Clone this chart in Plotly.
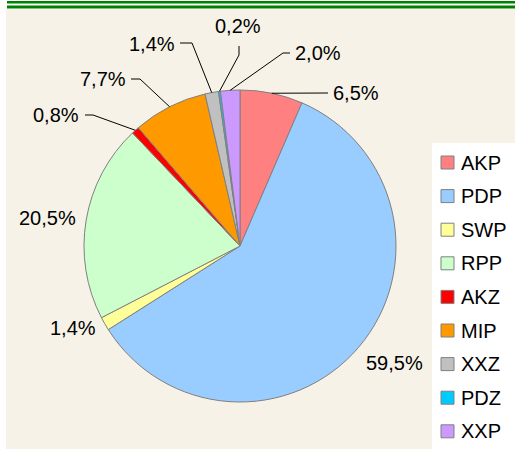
import math
import plotly.graph_objects as go

# ---- data ----
categories = ["AKP", "PDP", "SWP", "RPP", "AKZ", "MIP", "XXZ", "PDZ", "XXP"]
shares = [6.5, 59.5, 1.4, 20.5, 0.8, 7.7, 1.4, 0.2, 2.0]
colors = ["#FF8080", "#99CCFF", "#FFFF99", "#CCFFCC", "#FF0000",
          "#FF9900", "#C0C0C0", "#00CCFF", "#CC99FF"]

W, H = 515, 450
FONT = "Liberation Sans, Arial, sans-serif"


def X(px):
    return px / W


def Y(py):
    return 1 - py / H


# pie geometry (pixels)
CX, CY, R = 240, 246, 156

# label layout (positions only): text position, anchor, elbow/end of leader
label_layout = {
    "AKP": dict(pos=(331, 93), xa="left", path=[(328, 93)]),
    "PDP": dict(pos=(394, 363), xa="center", path=None),
    "SWP": dict(pos=(73, 328), xa="center", path=None),
    "RPP": dict(pos=(47, 218), xa="center", path=None),
    "AKZ": dict(pos=(81, 115), xa="right", path=[(93, 115), (85, 115)]),
    "MIP": dict(pos=(128, 79), xa="right", path=[(140, 79), (131, 79)]),
    "XXZ": dict(pos=(177, 44), xa="right", path=[(192, 43), (180, 43)]),
    "PDZ": dict(pos=(238, 26), xa="center", path=[(239, 55), (239, 46)]),
    "XXP": dict(pos=(293, 53), xa="left", path=[(283, 53), (290, 53)]),
}

fig = go.Figure()
fig.add_trace(go.Pie(
    labels=categories, values=shares, sort=False, direction="clockwise",
    rotation=0, textinfo="none", hoverinfo="skip", showlegend=False,
    marker=dict(colors=colors, line=dict(color="#808080", width=1)),
    domain=dict(x=[X(CX - R), X(CX + R)], y=[Y(CY + R), Y(CY - R)]),
))

shapes = []
# background panel
shapes.append(dict(type="rect", xref="paper", yref="paper", layer="below",
                   x0=X(6), x1=X(515), y0=Y(449), y1=Y(9),
                   fillcolor="#F6F2E7", line=dict(width=0)))
# green double rule
for y0, y1 in [(1, 3.5), (5.5, 8.5)]:
    shapes.append(dict(type="rect", xref="paper", yref="paper",
                       x0=X(7), x1=X(515), y0=Y(y1), y1=Y(y0),
                       fillcolor="#008000", line=dict(width=0)))
# legend box
shapes.append(dict(type="rect", xref="paper", yref="paper",
                   x0=X(432), x1=X(515), y0=Y(449), y1=Y(143),
                   fillcolor="white", line=dict(width=0)))

annotations = []
total = sum(shares)
cum = 0.0
for cat, v in zip(categories, shares):
    mid = (cum + v / 2) / total
    cum += v
    th = 2 * math.pi * mid
    ax = CX + R * math.sin(th)
    ay = CY - R * math.cos(th)
    lay = label_layout[cat]
    txt = f"{v:.1f}".replace(".", ",") + "%"
    annotations.append(dict(
        x=X(lay["pos"][0]), y=Y(lay["pos"][1]), xref="paper", yref="paper",
        text=txt, showarrow=False, xanchor=lay["xa"], yanchor="middle",
        font=dict(size=20, color="black", family=FONT)))
    if lay["path"]:
        pts = [(ax, ay)] + lay["path"]
        d = "M " + " L ".join(f"{X(px):.5f},{Y(py):.5f}" for px, py in pts)
        shapes.append(dict(type="path", xref="paper", yref="paper", path=d,
                           line=dict(color="black", width=1)))

# legend (manual)
for i, (cat, col) in enumerate(zip(categories, colors)):
    yc = 162.5 + i * 33.6
    shapes.append(dict(type="rect", xref="paper", yref="paper",
                       x0=X(441), x1=X(454), y0=Y(yc + 6.5), y1=Y(yc - 6.5),
                       fillcolor=col, line=dict(color="#808080", width=1)))
    annotations.append(dict(
        x=X(459), y=Y(yc), xref="paper", yref="paper", text=cat,
        showarrow=False, xanchor="left", yanchor="middle",
        font=dict(size=20, color="black", family=FONT)))

fig.update_layout(
    width=W, height=H, autosize=False,
    margin=dict(l=0, r=0, t=0, b=0, pad=0),
    paper_bgcolor="white", plot_bgcolor="rgba(0,0,0,0)",
    shapes=shapes, annotations=annotations, showlegend=False,
)

fig.write_html(
    "out.html",
    config={"displayModeBar": False},
    post_script="document.body.style.margin='0';document.body.style.overflow='hidden';",
)
